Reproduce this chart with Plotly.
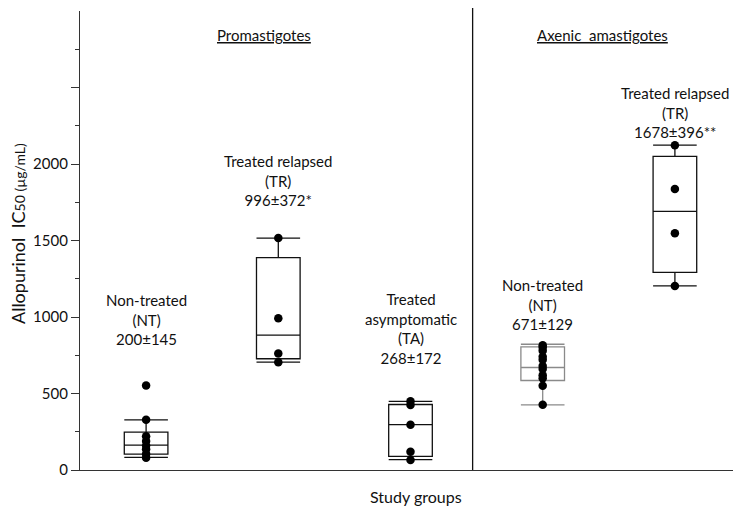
"""Allopurinol IC50 box plots for promastigotes and axenic amastigotes."""

import plotly.graph_objects as go

# group positions and labels
positions = [1, 2, 3, 4, 5]
group_labels = [
    "Non-treated<br>(NT)<br>200±145",
    "Treated relapsed<br>(TR)<br>996±372*",
    "Treated<br>asymptomatic<br>(TA)<br>268±172",
    "Non-treated<br>(NT)<br>671±129",
    "Treated relapsed<br>(TR)<br>1678±396**",
]
label_y = [986, 1889, 922, 1079, 2335]

# box statistics
q1 = [104, 727, 89, 585, 1292]
median = [163, 881, 296, 670, 1691]
q3 = [248, 1388, 428, 805, 2050]
lower_fence = [82, 705, 68, 426, 1203]
upper_fence = [328, 1516, 448, 822, 2123]

# individual isolates
points = [
    [553, 328, 220, 190, 160, 135, 105, 80],
    [1516, 992, 761, 705],
    [450, 425, 296, 120, 65],
    [815, 800, 780, 740, 720, 680, 660, 620, 600, 550, 426],
    [2123, 1837, 1547, 1203],
]

box_colors = ["#111111", "#111111", "#111111", "#8a8a8a", "#111111"]

FONT = "Lato, 'Open Sans', sans-serif"

fig = go.Figure()

for i, pos in enumerate(positions):
    fig.add_trace(go.Box(
        x=[pos],
        q1=[q1[i]],
        median=[median[i]],
        q3=[q3[i]],
        lowerfence=[lower_fence[i]],
        upperfence=[upper_fence[i]],
        width=0.33,
        whiskerwidth=1,
        boxpoints=False,
        fillcolor="rgba(0,0,0,0)",
        line=dict(color=box_colors[i], width=1.3),
        showlegend=False,
        hoverinfo="skip",
    ))

for i, pos in enumerate(positions):
    fig.add_trace(go.Scatter(
        x=[pos] * len(points[i]),
        y=points[i],
        mode="markers",
        marker=dict(size=8.5, color="black"),
        showlegend=False,
    ))

# group labels above each box
for i, pos in enumerate(positions):
    fig.add_annotation(
        x=pos, y=label_y[i], text=group_labels[i],
        showarrow=False, xanchor="center", yanchor="middle",
        font=dict(family=FONT, size=15, color="#111111"),
    )

# panel headings
fig.add_annotation(x=1.89, y=2841, text="<u>Promastigotes</u>", showarrow=False,
                   font=dict(family=FONT, size=15, color="#111111"))
fig.add_annotation(x=4.455, y=2841, text="<u>Axenic  amastigotes</u>", showarrow=False,
                   font=dict(family=FONT, size=15, color="#111111"))

# axis titles
fig.add_annotation(x=0.508, y=-0.057, xref="paper", yref="paper", text="Study groups",
                   showarrow=False, yanchor="middle",
                   font=dict(family=FONT, size=16, color="#111111"))
fig.add_annotation(
    x=-0.094, y=0.516, xref="paper", yref="paper", textangle=-90,
    text="Allopurinol  IC<span style='font-size:14px'>50 (µg/mL)</span>",
    showarrow=False, xanchor="center", yanchor="middle",
    font=dict(family=FONT, size=18, color="#111111"),
)

# divider between the two panels
fig.add_shape(type="line", xref="x", yref="paper", x0=3.47, x1=3.47, y0=0, y1=1.01,
              line=dict(color="#111111", width=1.3))

# the page body adds an 8px offset, so margins are shifted to compensate
fig.update_layout(
    width=741,
    height=511,
    margin=dict(l=72, r=8, t=3, b=49),
    plot_bgcolor="white",
    paper_bgcolor="white",
    font=dict(family=FONT, color="#111111"),
    xaxis=dict(
        range=[0.5, 5.5],
        showgrid=False,
        zeroline=False,
        showline=True,
        linecolor="#333333",
        linewidth=1.3,
        showticklabels=False,
        ticks="",
    ),
    yaxis=dict(
        range=[0, 3000],
        showgrid=False,
        zeroline=False,
        showline=True,
        linecolor="#333333",
        linewidth=1.3,
        ticks="outside",
        ticklen=8,
        tickcolor="#333333",
        tickvals=[0, 500, 1000, 1500, 2000, 2500],
        ticktext=["0", "500", "1000", "1500", "2000", ""],
        tickfont=dict(family=FONT, size=15, color="#111111"),
        minor=dict(
            tickvals=[250, 750, 1250, 1750, 2250, 2750],
            ticks="outside",
            ticklen=4,
            tickcolor="#333333",
        ),
    ),
)

fig.write_html("out.html")
